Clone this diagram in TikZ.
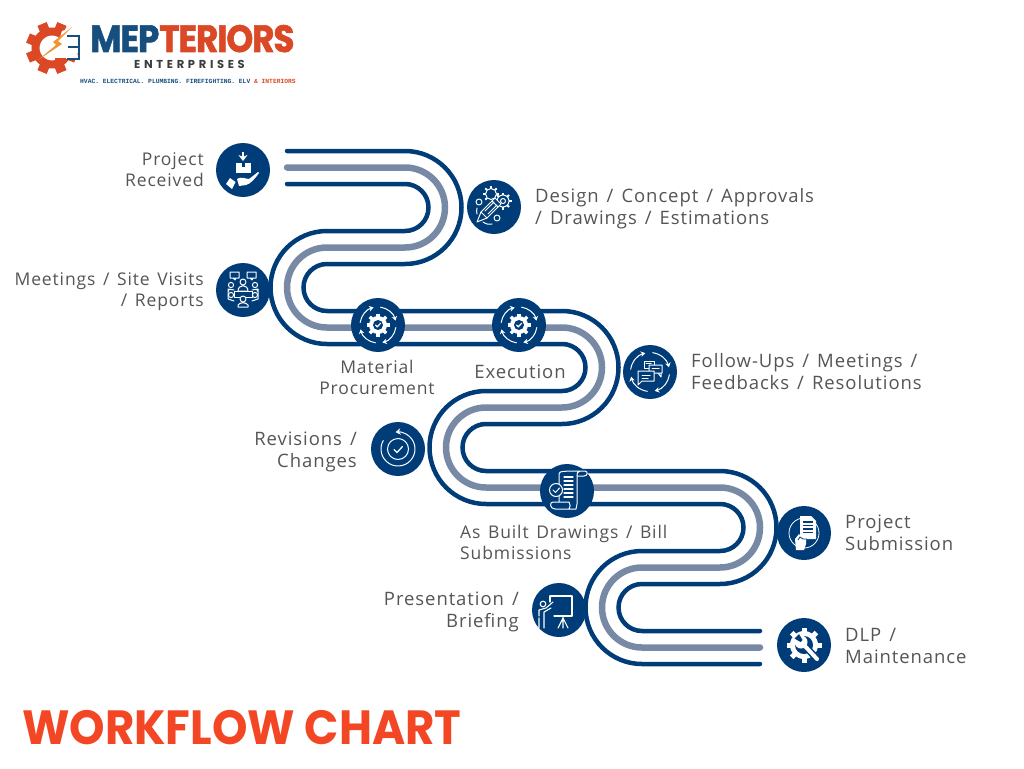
\documentclass[tikz,border=0pt]{standalone}
\usepackage{fontspec}
\usepackage{xcolor}
\setmainfont{Open Sans}[LetterSpace=5, WordSpace=1.4]
\newfontfamily\titlefont{Poppins}[BoldFont=* Bold]
\newfontfamily\logofont{Poppins}[BoldFont=* Bold]
\newfontfamily\tagfont{Liberation Mono}
\usetikzlibrary{arrows.meta, positioning, calc}
\definecolor{navycolor}{RGB}{0,60,120}
\definecolor{slatecolor}{RGB}{120,137,165}
\definecolor{textcolor}{RGB}{85,85,85}
\definecolor{titlecolor}{RGB}{243,70,36}
\definecolor{logoblue}{RGB}{22,78,125}
\definecolor{logored}{RGB}{218,72,38}
\definecolor{logogold}{RGB}{238,150,50}
\tikzset{
    stepdot/.style={circle, fill=navycolor, minimum size=54pt, inner sep=0pt},
    steptext/.style={text=textcolor, font=\fontsize{18.5}{22}\selectfont, inner sep=0pt},
    smalltext/.style={text=textcolor, font=\fontsize{17.5}{21}\selectfont, inner sep=0pt},
    lefttext/.style={align=right, anchor=east},
    righttext/.style={align=left, anchor=west},
    midtext/.style={align=center},
    iconline/.style={draw=white, line width=1pt, line cap=round, line join=round},
    arcarrow/.style={iconline, -{Stealth[length=4.5pt,width=5.5pt]}},
    pics/recvicon/.style={code={
        \draw[white, line width=2pt, -{Stealth[length=6pt,width=9pt]}] (0,-18) -- (0,-9);
        \fill[white] (-7,-7) rectangle (8,3);
        \fill[navycolor] (-1.5,-7) rectangle (1.5,-3.5);
        \fill[white] (-6,9) .. controls (-2,6) and (3,9) .. (6,9) -- (15,2) -- (16,3)
            .. controls (11,10) and (7,14) .. (3,15) -- (-4,16) -- cycle;
        \fill[white] (-17,14) -- (-13,8) -- (-7.5,12) -- (-11,19) -- cycle;
    }},
    pics/meeticon/.style={code={
        \draw[iconline] (-13,-18) rectangle (-4,-12) (-10,-12) -- (-8,-10) -- (-7,-12);
        \draw[iconline] (4,-18) rectangle (13,-12) (7,-12) -- (9,-10) -- (10,-12);
        \draw[iconline] (0,-8) circle (3) (-5,1) .. controls (-5,-6) and (5,-6) .. (5,1) -- cycle;
        \draw[iconline] (-9,1) rectangle (9,7);
        \foreach \sx in {-1,1} {
            \draw[iconline] (\sx*12,-5) circle (2.6) (\sx*12,5) circle (2.6);
            \draw[iconline] (\sx*9,0) -- (\sx*15,-1) -- (\sx*14,1) (\sx*15,-1) -- (\sx*15,9) -- (\sx*9,11);
        }
        \draw[iconline, fill=navycolor] (0,9) circle (3) (-5,17) -- (-5,15) .. controls (-3,12) and (3,12) .. (5,15) -- (5,17) -- cycle;
    }},
    pics/gearicon/.style={code={
        \foreach \ang in {0,45,...,315} \draw[white, line width=3.2pt] (\ang:7) -- (\ang:11.5);
        \fill[white] (0,0) circle (9);
        \fill[navycolor] (0,0) circle (5);
        \draw[white, line width=1.2pt, line cap=round] (-2.4,0) -- (-0.7,1.8) -- (2.6,-1.8);
        \foreach \ang in {8,98,188,278} \draw[arcarrow] (\ang:18) arc[start angle=\ang, end angle=\ang+68, radius=18];
    }},
    pics/designicon/.style={code={
        \draw[iconline] (9,-6) circle (6) (9,-6) circle (2.5);
        \foreach \ang in {0,45,...,315} \draw[white, line width=2pt] ($(9,-6)+(\ang:6)$) -- ($(9,-6)+(\ang:8.5)$);
        \draw[iconline] (-3,-13) circle (5.5);
        \foreach \ang in {135,180,225,270,315,360} \draw[white, line width=2pt] ($(-3,-13)+(\ang:5.5)$) -- ($(-3,-13)+(\ang:8)$);
        \draw[iconline, fill=navycolor] (-17,15) -- (-13,5) -- (1,-9) -- (7,-3) -- (-7,11) -- cycle;
        \draw[iconline] (-13,5) -- (-7,11) (-2,-6) -- (4,0) (-9,4) -- (0,-5) (-6,7) -- (3,-2);
        \draw[iconline] (-15,-5) circle (3) (3,11) circle (3);
        \draw[iconline] (-17,1) .. controls (-17,4) and (-18,5) .. (-17,7);
        \draw[iconline] (-11,15) .. controls (-8,17) and (-5,18) .. (-2,17);
    }},
    pics/followicon/.style={code={
        \foreach \ang in {8,98,188,278} \draw[arcarrow] (\ang:19.5) arc[start angle=\ang, end angle=\ang+68, radius=19.5];
        \draw[iconline] (-6,-11) rectangle (4,-4) (-4,-8.5) -- (1,-8.5);
        \draw[iconline, fill=navycolor] (-1,-7) rectangle (12,1) (8,1) -- (11,5) -- (11,1);
        \draw[iconline] (2,-4) -- (9,-4);
        \draw[iconline, fill=navycolor] (-12,-1) -- (4,-1) -- (4,9) -- (-8,9) -- (-12,13) -- cycle;
        \draw[iconline] (-8,3) -- (0,3) (-8,6) -- (-2,6);
    }},
    pics/revicon/.style={code={
        \draw[iconline, -{Stealth[length=5pt,width=6.5pt]}] (-150:17) arc[start angle=-150, end angle=-458, radius=17];
        \draw[iconline] (0,0) circle (10.5);
        \draw[iconline, line width=1.3pt] (-4,0.5) -- (-1,3.5) -- (4.5,-2.5);
    }},
    pics/scrollicon/.style={code={
        \draw[iconline] (-8,-7) -- (-8,-17) .. controls (-8,-20) and (-4,-20) .. (18,-20)
            .. controls (21,-20) and (21,-15) .. (17,-15) -- (11,-15)
            (13,-20) .. controls (10,-20) and (10,-17) .. (10,-15) -- (10,13) -- (9,18) -- (-12,18)
            .. controls (-17,18) and (-18,11) .. (-14,11) -- (2,11) .. controls (4,13) and (3,16) .. (2,18)
            (-8,5) -- (-8,11);
        \foreach \yy in {-14,-10,-6,-2,2,6} \draw[iconline, line width=1.3pt] (-3,\yy) -- (6,\yy);
        \draw[iconline, fill=navycolor] (-11,-1) circle (6.5);
        \draw[iconline] (-14,-1) -- (-11.5,1.5) -- (-7.5,-3);
    }},
    pics/subicon/.style={code={
        \draw[iconline, line width=0.8pt] (0,0) circle (15);
        \fill[white] (-4,-17) -- (7,-17) -- (12,-12) -- (12,6) -- (-4,6) -- cycle;
        \foreach \yy in {-11,-7.5,-4,-0.5} \draw[navycolor, line width=1.3pt] (-1,\yy) -- (9,\yy);
        \fill[white] (-8,17) -- (-9,6) -- (-5,1) -- (-1,6) -- (2,6) -- (2,11) -- (0,17) -- cycle;
        \draw[navycolor, line width=0.8pt] (-6,7) -- (-4,4) -- (-1,6) -- (3,6);
    }},
    pics/presicon/.style={code={
        \draw[iconline, line width=1.1pt] (-9,-14) -- (13,-14) -- (13,6) -- (-5,6);
        \draw[iconline, line width=1.1pt] (-9,-14) -- (-9,-8);
        \draw[iconline, line width=1.1pt] (4,6) -- (4,18) (4,8) -- (-1,18) (4,8) -- (9,18);
        \draw[iconline, line width=1.1pt] (-16,-6) circle (2.8);
        \draw[iconline, line width=1.1pt] (-20,6) -- (-20,0) -- (-13,-2) -- (-6,-8);
        \draw[iconline, line width=1.1pt] (-20,8) -- (-20,18) (-15,8) -- (-15,18) (-15,8) -- (-15,2) -- (-8,-2);
    }},
    pics/dlpicon/.style={code={
        \foreach \ang in {0,45,...,315} \draw[white, line width=5pt] (\ang:11) -- (\ang:17.5);
        \fill[white] (0,0) circle (14);
        \fill[navycolor] (0,0) circle (9);
        \draw[navycolor, line width=7pt] (-1,-1) -- (14,15);
        \draw[white, line width=4pt, line cap=round] (-1,-1) -- (13,14);
        \fill[white] (-3,-3) circle (6.5);
        \fill[navycolor] (-5,-11) -- (-9.5,-6.5) -- (-3.5,-3) -- (-1.5,-5) -- cycle;
    }},
}
\begin{document}
\begin{tikzpicture}[x=1pt, y=-1pt]
    \useasboundingbox (0,0) rectangle (1024,768);

    % logo
    \foreach \ang in {0,45,...,315} \fill[logored] (52,48) ++(\ang+22.5:17) ++(\ang+22.5+90:5) -- ++(\ang+22.5:9) -- ++(\ang+22.5-90:10) -- ++(\ang+22.5:-9) -- cycle;
    \draw[logored, line width=8pt] (52,48) circle (16.5);
    \fill[white] (62,31) -- (84,24) -- (76,60) -- (54,57) -- cycle;
    \fill[logored] (55,58) rectangle (66,63);
    \draw[logoblue, line width=2.6pt] (67,36) -- (79,36) -- (79,59) -- (67,59) (68,47) -- (79,47);
    \fill[logogold] (72,27) -- (53,42) -- (56,45) -- (38,60) -- (62,44) -- (58,41) -- cycle;
    \node[inner sep=0pt, anchor=base west, xscale=.9, transform shape] (logoname) at (90,52)
        {\logofont\bfseries\fontsize{38}{38}\selectfont\addfontfeature{LetterSpace=-3, FakeBold=1.5}\textcolor{logoblue}{MEP}\textcolor{logored}{TERIORS}};
    \node[inner sep=0pt, anchor=base west] (logosub) at (134,68)
        {\logofont\bfseries\fontsize{11.5}{11.5}\selectfont\addfontfeature{LetterSpace=32}\textcolor{textcolor!70!black}{ENTERPRISES}};
    \node[inner sep=0pt, anchor=base west] (logotag) at (80,83)
        {\tagfont\bfseries\fontsize{6.3}{6.3}\selectfont\textcolor{logoblue}{HVAC. ELECTRICAL. PLUMBING. FIREFIGHTING. ELV }\textcolor{logored}{\& INTERIORS}};

    % ribbon
    \foreach \off/\col/\wd in {16.5/navycolor/4.5, 0/slatecolor/6.5, -16.5/navycolor/4.5} {
        \draw[\col, line width=\wd pt, line cap=round]
            (287,167.5-\off) -- (405,167.5-\off) arc[start angle=-90, end angle=90, radius=40+\off]
            -- (327,247.5+\off) arc[start angle=-90, end angle=-270, radius=40-\off]
            -- (562,327.5-\off) arc[start angle=-90, end angle=90, radius=40+\off]
            -- (486,407.5+\off) arc[start angle=-90, end angle=-270, radius=40-\off]
            -- (720,487.5-\off) arc[start angle=-90, end angle=90, radius=40+\off]
            -- (642,567.5+\off) arc[start angle=-90, end angle=-270, radius=40-\off]
            -- (760,647.5-\off);
    }

    % steps
    \node[stepdot] (received) at (243,170) {};
    \node[stepdot] (design) at (494,207) {};
    \node[stepdot] (meetings) at (243,290) {};
    \node[stepdot] (material) at (378,325) {};
    \node[stepdot] (execution) at (519,325) {};
    \node[stepdot] (followups) at (650,372) {};
    \node[stepdot] (revisions) at (398,449) {};
    \node[stepdot] (asbuilt) at (567,491) {};
    \node[stepdot] (submission) at (804,533) {};
    \node[stepdot] (briefing) at (559,610) {};
    \node[stepdot] (dlp) at (804,645) {};

    \pic at (received) {recvicon};
    \pic at (design) {designicon};
    \pic at (meetings) {meeticon};
    \pic at (material) {gearicon};
    \pic at (execution) {gearicon};
    \pic at (followups) {followicon};
    \pic at (revisions) {revicon};
    \pic at (asbuilt) {scrollicon};
    \pic at (submission) {subicon};
    \pic at (briefing) {presicon};
    \pic at (dlp) {dlpicon};

    % labels
    \node[smalltext, lefttext] (receivedtext) at (204,170) {Project\\Received};
    \node[steptext, righttext] (designtext) at (535,209) {Design / Concept / Approvals\\/ Drawings / Estimations};
    \node[smalltext, lefttext] (meetingstext) at (204,292) {Meetings / Site Visits\\/ Reports};
    \node[smalltext, midtext] (materialtext) at (377,377.5) {Material\\Procurement};
    \node[steptext, midtext] (executiontext) at (520,372) {Execution};
    \node[steptext, righttext] (followupstext) at (691,372) {Follow-Ups / Meetings /\\Feedbacks / Resolutions};
    \node[steptext, lefttext] (revisionstext) at (357,451.5) {Revisions /\\Changes};
    \node[smalltext, righttext] (asbuilttext) at (460,542) {As Built Drawings / Bill\\Submissions};
    \node[steptext, righttext] (submissiontext) at (845,533) {Project\\Submission};
    \node[steptext, lefttext] (briefingtext) at (519,611.5) {Presentation /\\Briefing};
    \node[steptext, righttext] (dlptext) at (845,646) {DLP /\\Maintenance};

    \node[inner sep=0pt, anchor=base west, text=titlecolor, xscale=.94, transform shape] (charttitle) at (22,744)
        {\titlefont\bfseries\fontsize{48}{48}\selectfont WORKFLOW CHART};
\end{tikzpicture}
\end{document}
